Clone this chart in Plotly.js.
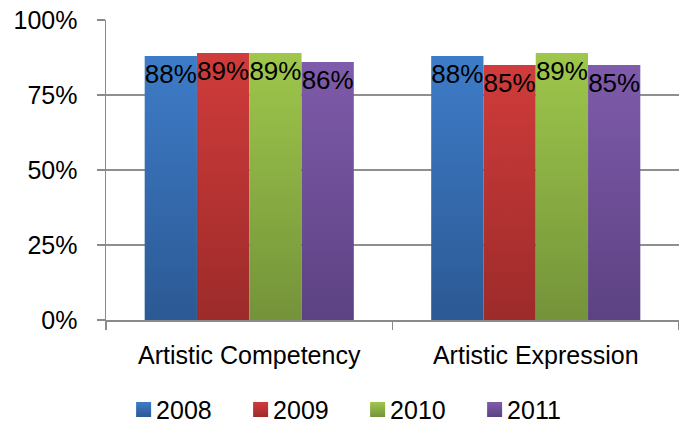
<!DOCTYPE html>
<html>
<head>
<meta charset="utf-8">
<script src="https://cdn.plot.ly/plotly-3.0.1.min.js"></script>
<style>
  html, body { margin: 0; padding: 0; background: #fff; }
  #chart { width: 679px; height: 426px; }
</style>
</head>
<body>
<div id="chart"></div>
<script>
// ---- data ----
const categories = ["Artistic Competency", "Artistic Expression"];
const years = ["2008", "2009", "2010", "2011"];
const values2008 = [88, 88];
const values2009 = [89, 85];
const values2010 = [89, 89];
const values2011 = [86, 85];
const seriesValues = [values2008, values2009, values2010, values2011];
const yTicks = [0, 25, 50, 75, 100];
const yTickLabels = ["0%", "25%", "50%", "75%", "100%"];

// ---- styles ----
const baseColors = ["#3468b0", "#b53334", "#88ac42", "#6d4f94"];
const gradTop = ["#3e7cc8", "#d03c3b", "#9ec74b", "#7f5bab"];
const gradBottom = ["#2b5994", "#9c2b2a", "#74933a", "#5c4282"];
const FONT = "Liberation Sans, Arial, Helvetica, sans-serif";

const traces = years.map((yr, i) => ({
  type: "bar",
  name: yr,
  x: categories,
  y: seriesValues[i],
  marker: { color: baseColors[i], line: { width: 0 } },
  text: seriesValues[i].map(v => v + "%"),
  texttemplate: "%{text}",
  textposition: "inside",
  insidetextanchor: "end",
  constraintext: "none",
  textangle: 0,
  insidetextfont: { family: FONT, size: 26, color: "#000" },
  hoverinfo: "skip",
  cliponaxis: false
}));

const layout = {
  width: 679,
  height: 426,
  margin: { l: 106, r: 0, t: 20, b: 106 },
  paper_bgcolor: "#fff",
  plot_bgcolor: "#fff",
  barmode: "group",
  bargap: 0.27,
  bargroupgap: 0,
  font: { family: FONT, size: 25, color: "#000" },
  showlegend: true,
  legend: {
    orientation: "h",
    xref: "container",
    yref: "container",
    x: 0.171,
    xanchor: "left",
    y: 0.038,
    yanchor: "middle",
    entrywidth: 72,
    itemwidth: 30,
    font: { family: FONT, size: 25, color: "#000" },
    traceorder: "normal"
  },
  xaxis: {
    type: "category",
    showline: true,
    linecolor: "#8a8a8a",
    linewidth: 1.5,
    ticks: "outside",
    tickson: "boundaries",
    ticklen: 8,
    tickcolor: "#8a8a8a",
    tickwidth: 1.5,
    showgrid: false,
    ticklabelstandoff: 12,
    tickfont: { family: FONT, size: 25, color: "#000" },
    fixedrange: true
  },
  yaxis: {
    range: [0, 100],
    tickmode: "array",
    tickvals: yTicks,
    ticktext: yTickLabels,
    showline: true,
    linecolor: "#8a8a8a",
    linewidth: 1.5,
    ticks: "outside",
    ticklen: 8,
    tickcolor: "#8a8a8a",
    tickwidth: 1.5,
    showgrid: true,
    gridcolor: "#8f8f8f",
    gridwidth: 1.5,
    zeroline: false,
    ticklabelstandoff: 14,
    tickfont: { family: FONT, size: 25, color: "#000" },
    fixedrange: true
  }
};

Plotly.newPlot("chart", traces, layout, { displayModeBar: false, staticPlot: true, responsive: false })
  .then(gd => {
    // vertical gradients on bars and legend symbols
    const svgNS = "http://www.w3.org/2000/svg";
    const mainSvg = gd.querySelector("svg.main-svg");
    let defs = mainSvg.querySelector("defs");
    if (!defs) { defs = document.createElementNS(svgNS, "defs"); mainSvg.insertBefore(defs, mainSvg.firstChild); }
    years.forEach((yr, i) => {
      const g = document.createElementNS(svgNS, "linearGradient");
      g.setAttribute("id", "bargrad" + i);
      g.setAttribute("x1", "0"); g.setAttribute("y1", "0");
      g.setAttribute("x2", "0"); g.setAttribute("y2", "1");
      const s1 = document.createElementNS(svgNS, "stop");
      s1.setAttribute("offset", "0"); s1.setAttribute("stop-color", gradTop[i]);
      const s2 = document.createElementNS(svgNS, "stop");
      s2.setAttribute("offset", "1"); s2.setAttribute("stop-color", gradBottom[i]);
      g.appendChild(s1); g.appendChild(s2);
      defs.appendChild(g);
    });
    gd.querySelectorAll(".barlayer .trace").forEach((tr, i) => {
      tr.querySelectorAll(".point path").forEach(p => { p.style.fill = "url(#bargrad" + i + ")"; });
    });
    gd.querySelectorAll(".legend .traces").forEach((tr, i) => {
      tr.querySelectorAll(".legendpoints path").forEach(p => {
        p.style.fill = "url(#bargrad" + i + ")";
        p.style.stroke = "none";
        p.setAttribute("d", "M15,7.5H0V-7.5H15Z");
      });
    });
  });
</script>
</body>
</html>
